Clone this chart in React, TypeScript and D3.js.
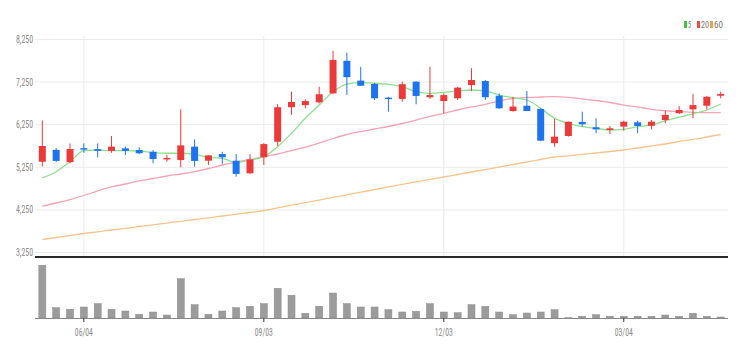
import React from "react";
import * as d3 from "d3";

const dates = [
  "2018-05-14","2018-05-21","2018-05-28","2018-06-04","2018-06-11","2018-06-18","2018-06-25","2018-07-02","2018-07-09","2018-07-16",
  "2018-07-23","2018-07-30","2018-08-06","2018-08-13","2018-08-20","2018-08-27","2018-09-03","2018-09-10","2018-09-17","2018-09-24",
  "2018-10-01","2018-10-08","2018-10-15","2018-10-22","2018-10-29","2018-11-05","2018-11-12","2018-11-19","2018-11-26","2018-12-03",
  "2018-12-10","2018-12-17","2018-12-24","2018-12-31","2019-01-07","2019-01-14","2019-01-21","2019-01-28","2019-02-04","2019-02-11",
  "2019-02-18","2019-02-25","2019-03-04","2019-03-11","2019-03-18","2019-03-25","2019-04-01","2019-04-08","2019-04-15","2019-04-22",
];
const opens = [5380,5660,5370,5700,5675,5635,5695,5655,5615,5440,5420,5735,5405,5560,5405,5110,5485,5850,6660,6710,6775,6985,7750,7285,7205,6885,6855,7260,6895,6805,6870,7180,7275,6930,6570,6695,6620,5815,5985,6315,6190,6125,6205,6305,6225,6360,6520,6610,6695,6930];
const highs = [6350,5700,5810,5810,5810,5985,5735,5720,5655,5540,6610,5905,5535,5615,5560,5560,5815,6735,7025,6845,7140,7985,7940,7610,7235,6905,7260,7275,7610,6985,7140,7575,7300,6985,6905,7040,6635,6385,6325,6555,6400,6220,6345,6345,6360,6580,6690,6970,6925,7025];
const lows = [5270,5380,5340,5590,5485,5590,5540,5560,5345,5380,5250,5265,5305,5330,5030,5095,5305,5750,6480,6635,6750,6965,6950,7165,6830,6555,6790,6730,6855,6520,6830,7040,6830,6620,6555,6570,5865,5735,5970,6205,6050,6030,6110,6050,6140,6285,6500,6400,6610,6870];
const closes = [5750,5400,5680,5665,5635,5735,5635,5580,5445,5470,5765,5400,5530,5485,5095,5435,5795,6660,6785,6805,6965,7770,7365,7165,6870,6855,7200,6925,6945,6945,7120,7300,6895,6635,6675,6570,5875,5970,6320,6260,6140,6165,6320,6220,6320,6480,6595,6710,6905,6970];
const volumes = [527,103,87,110,143,87,70,37,60,30,393,133,37,70,103,117,143,297,227,47,117,250,143,110,110,83,60,67,143,60,53,133,117,60,33,50,60,83,4,17,33,17,17,17,17,30,17,47,17,10];
const ma5 = [5000,5147,5381,5640,5656,5640,5640,5633,5593,5580,5580,5555,5485,5460,5358,5421,5499,5734,6048,6400,6712,7025,7205,7236,7221,7198,7142,7025,6987,7010,7041,7065,7041,6947,6884,6830,6635,6400,6283,6203,6166,6126,6142,6203,6243,6344,6426,6505,6595,6736];
const ma20 = [4340,4412,4494,4588,4694,4788,4858,4929,4987,5046,5093,5151,5222,5304,5374,5433,5499,5562,5644,5726,5820,5926,6020,6090,6149,6208,6278,6360,6443,6518,6595,6666,6729,6806,6865,6889,6900,6907,6893,6858,6818,6771,6712,6666,6612,6577,6555,6541,6535,6532];
const ma60 = [3555,3602,3649,3696,3736,3778,3818,3860,3900,3942,3982,4025,4065,4107,4147,4189,4236,4299,4360,4421,4482,4543,4604,4665,4726,4788,4849,4910,4968,5022,5081,5140,5198,5257,5316,5374,5433,5492,5520,5551,5586,5621,5656,5703,5750,5797,5856,5903,5961,6020];
const yTicks = [3250,4250,5250,6250,7250,8250];
const xTickDates = ["2018-06-04","2018-09-03","2018-12-03","2019-03-04"];
const legendLabels = ["5","20","60"];

const W = 744, H = 358;
const UP = "#ec3a3a", DOWN = "#1e74ee";
const MA_COLORS = ["#8ee08e", "#f5a4b4", "#f9c48c"];
const LEGEND_COLORS = ["#3cc43c", "#f04848", "#f4a040"];
const FONT = "'Liberation Sans Narrow', 'Roboto Condensed', 'Roboto', sans-serif";

export default function App() {
  const x = d3.scaleBand<string>().domain(dates).range([35.4, 727.6]).paddingInner(0.48).paddingOuter(0.24);
  const cx = (d: string) => (x(d) as number) + x.bandwidth() / 2;
  const y = d3.scaleLinear().domain([3250, 8250]).range([252.5, 39.5]);
  const yv = d3.scaleLinear().domain([0, 527]).range([318, 265.3]);
  const fmt = d3.format(",");
  const parse = d3.timeParse("%Y-%m-%d");
  const tfmt = d3.timeFormat("%m/%d");
  const bw = 7;

  const lineGen = (vals: number[]) =>
    d3.line<number>().x((_, i) => cx(dates[i])).y((v) => y(v)).curve(d3.curveMonotoneX)(vals) || "";

  const legendX = [684, 697, 710];
  const legendW = [3, 8, 9];

  return (
    <svg width={W} height={H} style={{ position: "absolute", left: 0, top: 0, background: "#fff" }}>
      {/* grid */}
      {yTicks.map((t) => (
        <line key={"g" + t} x1={35} x2={728} y1={y(t)} y2={y(t)} stroke="#ececec" strokeWidth={1} />
      ))}
      {xTickDates.map((d) => (
        <line key={"v" + d} x1={cx(d)} x2={cx(d)} y1={36} y2={256} stroke="#ececec" strokeWidth={1} />
      ))}
      {yTicks.map((t) => (
        <text key={"yl" + t} x={33} y={y(t)} dy="0.35em" textAnchor="end" fontSize={10} fill="#8a8a8a" fontFamily={FONT}
          textLength={17} lengthAdjust="spacingAndGlyphs">
          {fmt(t)}
        </text>
      ))}
      {/* moving averages */}
      <path d={lineGen(ma60)} fill="none" stroke={MA_COLORS[2]} strokeWidth={1.3} />
      <path d={lineGen(ma20)} fill="none" stroke={MA_COLORS[1]} strokeWidth={1.3} />
      <path d={lineGen(ma5)} fill="none" stroke={MA_COLORS[0]} strokeWidth={1.3} />
      {/* candles */}
      {dates.map((d, i) => {
        const up = closes[i] >= opens[i];
        const c = up ? UP : DOWN;
        const top = y(Math.max(opens[i], closes[i]));
        const bot = y(Math.min(opens[i], closes[i]));
        return (
          <g key={"c" + d}>
            <line x1={cx(d)} x2={cx(d)} y1={y(highs[i])} y2={y(lows[i])} stroke={c} strokeWidth={1} />
            <rect x={cx(d) - bw / 2} y={top} width={bw} height={Math.max(1.5, bot - top)} fill={c} />
          </g>
        );
      })}
      {/* separator */}
      <line x1={35} x2={728} y1={257} y2={257} stroke="#2a2a2a" strokeWidth={2} />
      {/* volume */}
      {dates.map((d, i) => (
        <rect key={"v" + d} x={cx(d) - bw / 2} y={yv(volumes[i])} width={bw} height={Math.max(1, 318 - yv(volumes[i]))} fill="#9c9c9c" stroke="#8a8a8a" strokeWidth={0.5} />
      ))}
      <line x1={35} x2={728} y1={318.5} y2={318.5} stroke="#888" strokeWidth={1} />
      {xTickDates.map((d) => (
        <g key={"xt" + d}>
          <line x1={cx(d)} x2={cx(d)} y1={318} y2={322} stroke="#333" strokeWidth={1} />
          <text x={cx(d)} y={336} textAnchor="middle" fontSize={10} fill="#8a8a8a" fontFamily={FONT}
            textLength={18} lengthAdjust="spacingAndGlyphs">
            {tfmt(parse(d) as Date)}
          </text>
        </g>
      ))}
      {/* legend */}
      {legendLabels.map((l, i) => {
        const xs = legendX[i];
        return (
          <g key={"lg" + l}>
            <rect x={xs} y={21} width={3} height={7} fill={LEGEND_COLORS[i]} />
            <text x={xs + 4} y={28} fontSize={9} fill="#777" fontFamily={FONT}
              textLength={legendW[i]} lengthAdjust="spacingAndGlyphs">{l}</text>
          </g>
        );
      })}
    </svg>
  );
}
